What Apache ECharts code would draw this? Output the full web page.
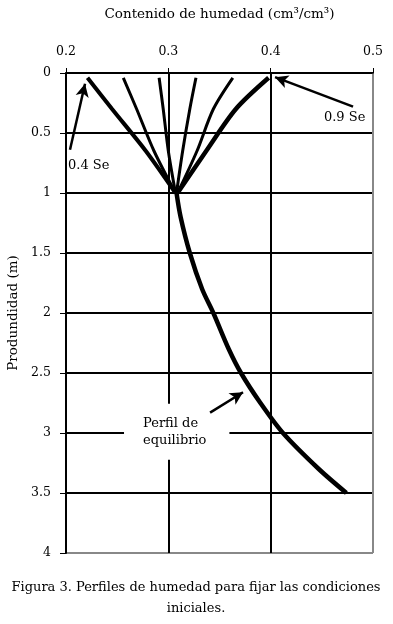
<!DOCTYPE html>
<html>
<head>
<meta charset="utf-8">
<script src="https://cdn.jsdelivr.net/npm/echarts@6/dist/echarts.min.js"></script>
<style>
  html, body { margin: 0; padding: 0; background: #fff; }
  #chart { width: 393px; height: 624px; }
</style>
</head>
<body>
<div id="chart"></div>
<script>
// depths (m) shared by the six initial profiles
var profileDepths = [0.04, 0.3, 0.65, 1.0];
// moisture content of each initial profile, 0.4 Se ... 0.9 Se
var se04 = [0.221, 0.245, 0.278, 0.307];
var se05 = [0.256, 0.269, 0.286, 0.307];
var se06 = [0.291, 0.295, 0.300, 0.307];
var se07 = [0.327, 0.321, 0.314, 0.308];
var se08 = [0.363, 0.344, 0.328, 0.309];
var se09 = [0.398, 0.366, 0.337, 0.309];

// equilibrium profile
var eqDepths = [1.0, 1.2, 1.5, 1.8, 2.0, 2.3, 2.5, 2.75, 3.0, 3.3, 3.5];
var eqMoisture = [0.308, 0.312, 0.321, 0.333, 0.344, 0.359, 0.371, 0.390, 0.412, 0.447, 0.474];

var xTicks = [0.2, 0.3, 0.4, 0.5];

var font = "DejaVu Serif";

function pairs(xs, ys) {
  return xs.map(function (x, i) { return [x, ys[i]]; });
}

function profileSeries(xs, width) {
  return {
    type: "line",
    data: pairs(xs, profileDepths),
    showSymbol: false,
    smooth: 0.3,
    lineStyle: { color: "#000", width: width },
    silent: true
  };
}

var chart = echarts.init(document.getElementById("chart"));

var option = {
  backgroundColor: "#fff",
  animation: false,
  grid: { left: 66, right: 20, top: 73, bottom: 71, outerBoundsMode: "none" },
  graphic: [
    {
      type: "text",
      x: 196,
      y: 577,
      style: {
        text: "Figura 3. Perfiles de humedad para fijar las condiciones\niniciales.",
        align: "center",
        font: "13px '" + font + "'",
        lineHeight: 21,
        fill: "#000"
      }
    }
  ],
  xAxis: {
    type: "value",
    position: "top",
    min: 0.2,
    max: 0.5,
    interval: 0.1,
    name: "Contenido de humedad (cm³/cm³)",
    nameLocation: "middle",
    nameGap: 52,
    nameTextStyle: { fontFamily: font, fontSize: 13.5, color: "#000" },
    axisLine: { show: true, lineStyle: { color: "#000", width: 1.5 } },
    axisTick: { show: true, inside: false, length: 5, lineStyle: { color: "#000" } },
    axisLabel: {
      fontFamily: font, fontSize: 12.5, color: "#000", margin: 15,
      formatter: function (v) { return xTicks.indexOf(Math.round(v * 10) / 10) >= 0 ? v.toFixed(1) : ""; }
    },
    splitLine: { show: true, lineStyle: { color: ["#000", "#000", "#000", "#888"], width: 2 } }
  },
  yAxis: {
    type: "value",
    inverse: true,
    min: 0,
    max: 4,
    interval: 0.5,
    name: "Produndidad (m)",
    nameLocation: "middle",
    nameGap: 46,
    nameTextStyle: { fontFamily: font, fontSize: 13.5, color: "#000" },
    axisLine: { show: true, lineStyle: { color: "#000", width: 2 } },
    axisTick: { show: true, inside: false, length: 6, lineStyle: { color: "#000" } },
    axisLabel: { fontFamily: font, fontSize: 12.5, color: "#000", margin: 15 },
    splitLine: {
      show: true,
      lineStyle: { color: ["#000", "#000", "#000", "#000", "#000", "#000", "#000", "#000", "#888"], width: 2 }
    }
  },
  series: [
    profileSeries(se04, 4),
    profileSeries(se05, 3),
    profileSeries(se06, 3),
    profileSeries(se07, 3),
    profileSeries(se08, 3),
    profileSeries(se09, 4.5),
    {
      type: "line",
      data: pairs(eqMoisture, eqDepths),
      showSymbol: false,
      smooth: 0.3,
      lineStyle: { color: "#000", width: 4.5 },
      silent: true
    },
    {
      // notes
      type: "scatter",
      symbolSize: 0,
      silent: true,
      z: 3,
      itemStyle: { opacity: 1 },
      data: [
        { value: [0.202, 0.77], label: { formatter: "0.4 Se", position: "right", distance: 0 } },
        { value: [0.4925, 0.375], label: { formatter: "0.9 Se", position: "left", distance: 0 } },
        {
          value: [0.2567, 2.99],
          label: {
            formatter: "Perfil de\nequilibrio",
            position: "inside",
            align: "left",
            verticalAlign: "middle",
            backgroundColor: "#fff",
            padding: [11, 23, 11, 19],
            lineHeight: 17
          }
        }
      ],
      label: { show: true, fontFamily: font, fontSize: 13, color: "#000" }
    },
    {
      // arrows
      type: "line",
      data: [],
      silent: true,
      z: 6,
      markLine: {
        silent: true,
        z: 6,
        symbol: ["none", "arrow"],
        symbolSize: [10, 13],
        label: { show: false },
        lineStyle: { color: "#000", width: 2.5, type: "solid" },
        data: [
          [{ coord: [0.2039, 0.64] }, { coord: [0.2186, 0.09] }],
          [{ coord: [0.4805, 0.28] }, { coord: [0.4043, 0.035] }],
          [{ coord: [0.3408, 2.83] }, { coord: [0.373, 2.66] }]
        ]
      }
    }
  ]
};

chart.setOption(option);
</script>
</body>
</html>
